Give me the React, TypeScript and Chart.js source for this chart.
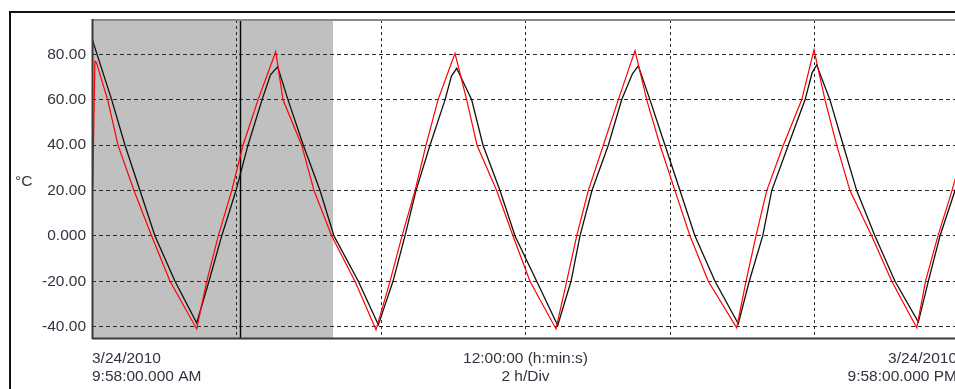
import React, { useEffect, useRef } from "react";
import { Chart, registerables } from "chart.js";

Chart.register(...registerables);

// ---- data (hours after 9:58 AM, °C) ----
const redHours = [
  0.01, 0.04, 0.06, 0.217, 0.36, 0.581, 0.826, 1.08, 1.449, 1.588, 1.748, 1.934, 2.09, 2.298, 2.543,
  2.644, 2.902, 3.073, 3.318, 3.64, 3.931, 4.125, 4.291, 4.471, 4.623, 4.789, 5.024,
  5.186, 5.329, 5.601, 5.827, 6.062, 6.422, 6.57, 6.709, 6.869, 7.077, 7.284, 7.516,
  7.678, 7.862, 8.069, 8.277, 8.53, 8.923, 9.052, 9.19, 9.339, 9.568, 9.823, 9.993,
  10.145, 10.307, 10.491, 10.792, 11.069, 11.415, 11.536, 11.709, 11.903, 12.0,
];
const redTemps = [
  21, 77, 76.5, 60, 40, 20, 0, -20, -41, -20, 0, 20, 40, 60, 81.2,
  60, 40, 20, 0, -20, -41.4, -20, 0, 20, 40, 60, 80.5,
  60, 40, 20, 0, -20, -41, -20, 0, 20, 40, 60, 81.7,
  60, 40, 20, 0, -20, -40.5, -20, 0, 20, 40, 60, 82,
  60, 40, 20, 0, -20, -40.5, -20, 0, 20, 31,
];
const blackHours = [
  0.0, 0.273, 0.457, 0.664, 0.872, 1.149, 1.449, 1.619, 1.795, 1.993, 2.159, 2.353, 2.47, 2.57,
  2.713, 2.925, 3.156, 3.349, 3.686, 3.963, 4.166, 4.332, 4.484, 4.678, 4.886, 4.975, 5.048,
  5.255, 5.412, 5.647, 5.855, 6.155, 6.446, 6.63, 6.754, 6.92, 7.146, 7.331, 7.48, 7.561,
  7.723, 7.931, 8.138, 8.346, 8.623, 8.945, 9.097, 9.283, 9.408, 9.637, 9.869, 9.968, 10.03,
  10.214, 10.398, 10.584, 10.837, 11.114, 11.437, 11.575, 11.737, 11.945, 12.0,
];
const blackTemps = [
  87, 60, 40, 20, 0, -20, -38.4, -20, 0, 20, 40, 60, 71, 74.6,
  60, 40, 20, 0, -20, -39.2, -20, 0, 20, 40, 60, 70.5, 73.9,
  60, 40, 20, 0, -20, -39.5, -20, 0, 20, 40, 60, 71.5, 75,
  60, 40, 20, 0, -20, -38.7, -20, 0, 20, 40, 60, 72, 75.4,
  60, 40, 20, 0, -20, -38, -20, 0, 20, 25,
];

const yTickValues = [-40, -20, 0, 20, 40, 60, 80];
const yTickLabels = ["-40.00", "-20.00", "0.000", "20.00", "40.00", "60.00", "80.00"];
const xGridHours = [2, 4, 6, 8, 10];
const xMinHour = 0;
const xMaxHour = 12;
const yMin = -45;
const yMax = 95.2;
const shadeEndHour = 3.336;
const cursorHour = 2.048;
const unitLabel = "°C";
const leftTimeLabel = ["3/24/2010", "9:58:00.000 AM"];
const centerTimeLabel = ["12:00:00 (h:min:s)", "2 h/Div"];
const rightTimeLabel = ["3/24/2010", "9:58:00.000 PM"];

const CANVAS_W = 975;
const CANVAS_H = 389;
const FONT_FAMILY = '"Liberation Sans", Arial, sans-serif';
const FONT = `15.5px ${FONT_FAMILY}`;
const TEXT_COLOR = "#33333f";

const toPoints = (xs: number[], ys: number[]) => xs.map((x, i) => ({ x, y: ys[i] }));

const decorPlugin = {
  id: "decor",
  beforeDraw(chart: any) {
    const { ctx, chartArea: a, scales } = chart;
    const xe = scales.x.getPixelForValue(shadeEndHour);
    ctx.save();
    ctx.fillStyle = "#c0c0c0";
    ctx.fillRect(a.left, a.top, xe - a.left, a.bottom - a.top);
    ctx.restore();
  },
  beforeDatasetsDraw(chart: any) {
    const { ctx, chartArea: a, scales } = chart;
    const xc = Math.round(scales.x.getPixelForValue(cursorHour)) + 0.5;
    ctx.save();
    ctx.strokeStyle = "#000";
    ctx.lineWidth = 1.4;
    ctx.beginPath();
    ctx.moveTo(xc, a.top);
    ctx.lineTo(xc, a.bottom);
    ctx.stroke();
    ctx.restore();
  },
  afterDraw(chart: any) {
    const { ctx, chartArea: a, scales } = chart;
    ctx.save();
    // plot borders
    ctx.lineWidth = 2;
    ctx.strokeStyle = "#8a8a8a";
    ctx.beginPath();
    ctx.moveTo(a.left, a.top);
    ctx.lineTo(a.right, a.top);
    ctx.stroke();
    ctx.strokeStyle = "#3a3a3a";
    ctx.beginPath();
    ctx.moveTo(a.left + 0.5, a.top - 1);
    ctx.lineTo(a.left + 0.5, a.bottom + 1);
    ctx.moveTo(a.left, a.bottom + 0.5);
    ctx.lineTo(a.right, a.bottom + 0.5);
    ctx.stroke();
    // outer frame
    ctx.strokeStyle = "#111";
    ctx.lineWidth = 2;
    ctx.strokeRect(10, 12, CANVAS_W + 20, CANVAS_H + 20);
    // texts
    ctx.fillStyle = TEXT_COLOR;
    ctx.font = FONT;
    ctx.textBaseline = "alphabetic";
    ctx.textAlign = "left";
    ctx.fillText(unitLabel, 15, 186);
    const line1 = 362.5;
    const line2 = 381;
    const xl = scales.x.getPixelForValue(xMinHour);
    const xm = scales.x.getPixelForValue((xMinHour + xMaxHour) / 2);
    const xr = scales.x.getPixelForValue(xMaxHour) - 2;
    ctx.textAlign = "left";
    ctx.fillText(leftTimeLabel[0], xl, line1);
    ctx.fillText(leftTimeLabel[1], xl, line2);
    ctx.textAlign = "center";
    ctx.fillText(centerTimeLabel[0], xm, line1);
    ctx.fillText(centerTimeLabel[1], xm, line2);
    ctx.textAlign = "right";
    ctx.fillText(rightTimeLabel[0], xr, line1);
    ctx.fillText(rightTimeLabel[1], xr, line2);
    ctx.restore();
  },
};

export default function App() {
  const canvasRef = useRef<HTMLCanvasElement | null>(null);

  useEffect(() => {
    const canvas = canvasRef.current;
    if (!canvas) return;
    const chart = new Chart(canvas, {
      type: "line",
      data: {
        datasets: [
          {
            label: "Red",
            data: toPoints(redHours, redTemps),
            borderColor: "#ff0000",
            borderWidth: 1.2,
            pointRadius: 0,
            tension: 0,
            fill: false,
          },
          {
            label: "Black",
            data: toPoints(blackHours, blackTemps),
            borderColor: "#111111",
            borderWidth: 1.3,
            pointRadius: 0,
            tension: 0,
            fill: false,
          },
        ],
      },
      options: {
        animation: false,
        responsive: false,
        devicePixelRatio: 1,
        parsing: true,
        layout: { padding: { top: 20, right: CANVAS_W - 959, left: 0, bottom: 0 } },
        plugins: {
          legend: { display: false },
          tooltip: { enabled: false },
        },
        events: [],
        scales: {
          x: {
            type: "linear",
            min: xMinHour,
            max: xMaxHour,
            afterBuildTicks: (s: any) => {
              s.ticks = xGridHours.map((v) => ({ value: v }));
            },
            afterFit: (s: any) => {
              s.height = CANVAS_H - 338;
            },
            ticks: { display: false },
            grid: { color: "#2a2a2a", lineWidth: 1, drawTicks: false },
            border: { display: false, dash: [3, 3] },
          },
          y: {
            type: "linear",
            min: yMin,
            max: yMax,
            afterBuildTicks: (s: any) => {
              s.ticks = yTickValues.map((v) => ({ value: v }));
            },
            afterFit: (s: any) => {
              s.width = 92;
            },
            ticks: {
              padding: 6,
              color: TEXT_COLOR,
              font: { size: 15.5, family: FONT_FAMILY },
              callback: (_v: any, i: number) => yTickLabels[i],
            },
            grid: { color: "#2a2a2a", lineWidth: 1, drawTicks: false },
            border: { display: false, dash: [4, 3] },
          },
        },
      },
      plugins: [decorPlugin],
    });
    return () => chart.destroy();
  }, []);

  return (
    <div
      style={{
        position: "absolute",
        left: 0,
        top: 0,
        width: 955,
        height: 389,
        overflow: "hidden",
        background: "#fff",
      }}
    >
      <canvas ref={canvasRef} width={CANVAS_W} height={CANVAS_H} style={{ display: "block" }} />
    </div>
  );
}
